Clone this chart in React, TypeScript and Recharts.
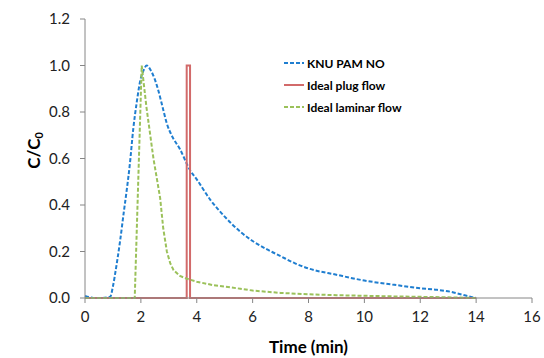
import React from "react";
import { LineChart, Line, XAxis, YAxis } from "recharts";

const knuTime = [0, 0.15, 0.3, 0.6, 0.9, 1.0, 1.1, 1.25, 1.4, 1.5, 1.6, 1.73, 1.85, 1.97, 2.1, 2.21, 2.35, 2.5, 2.63, 2.8, 2.93, 3.1, 3.4, 3.76, 4.0, 4.5, 5.0, 5.56, 6.0, 6.5, 7.0, 7.5, 8.0, 9.0, 10.0, 11.0, 12.0, 12.6, 13.08, 13.44, 13.7, 14.0];
const knuConc = [0.009, 0.004, 0.0, 0.0, 0.005, 0.05, 0.12, 0.24, 0.38, 0.47, 0.57, 0.73, 0.84, 0.93, 0.98, 1.0, 0.98, 0.94, 0.89, 0.81, 0.75, 0.7, 0.64, 0.55, 0.51, 0.42, 0.35, 0.285, 0.245, 0.21, 0.18, 0.15, 0.127, 0.1, 0.075, 0.058, 0.042, 0.035, 0.027, 0.016, 0.008, 0];

const plugTime = [0, 3.64, 3.64, 3.76, 3.76, 14];
const plugConc = [0, 0, 1, 1, 0, 0];

const laminarTime = [0, 1.78, 2.03, 2.2, 2.45, 2.69, 2.8, 2.93, 3.05, 3.17, 3.4, 3.64, 4.0, 4.6, 5.56, 6.0, 7.0, 8.0, 9.0, 10.2, 11, 12, 13, 14];
const laminarConc = [0, 0, 1.0, 0.82, 0.6, 0.43, 0.3, 0.2, 0.15, 0.12, 0.095, 0.083, 0.07, 0.055, 0.04, 0.032, 0.022, 0.016, 0.012, 0.009, 0.007, 0.005, 0.003, 0];

const xTicks = [0, 2, 4, 6, 8, 10, 12, 14, 16];
const yTicks = [0, 0.2, 0.4, 0.6, 0.8, 1.0, 1.2];

const toRows = (t: number[], c: number[]) => t.map((x, i) => ({ t: x, c: c[i] }));

const series = [
  { name: "KNU PAM NO", color: "#1f7ed0", dashed: true, data: toRows(knuTime, knuConc) },
  { name: "Ideal plug flow", color: "#d26a6a", dashed: false, data: toRows(plugTime, plugConc) },
  { name: "Ideal laminar flow", color: "#9bc15a", dashed: true, data: toRows(laminarTime, laminarConc) },
];

const font = "Lato, 'Open Sans', sans-serif";
const axisColor = "#868686";

// legend drawn on top of the chart, like the excel one
const LegendBox = () => (
  <div style={{ position: "absolute", left: 283, top: 52, fontFamily: font, fontWeight: 700, fontSize: 12, color: "#000" }}>
    {series.map((s) => (
      <div key={s.name} style={{ display: "flex", alignItems: "center", height: 22 }}>
        <svg width={22} height={6} style={{ marginRight: 2 }}>
          <line x1={1} y1={3} x2={21} y2={3} stroke={s.color} strokeWidth={2} strokeDasharray={s.dashed ? "4 2" : undefined} />
        </svg>
        <span>{s.name}</span>
      </div>
    ))}
  </div>
);

const YLabel = (props: any) => {
  const { viewBox } = props;
  const cy = viewBox.y + viewBox.height / 2 - 8;
  const cx = 33;
  return (
    <text x={cx} y={cy} transform={`rotate(-90, ${cx}, ${cy})`} textAnchor="middle" dominantBaseline="central" fontFamily={font} fontWeight={700} fontSize={17} fill="#000">
      C/C<tspan fontSize={11} dy={5}>0</tspan>
    </text>
  );
};

export default function App() {
  return (
    <div style={{ position: "absolute", left: 0, top: 0, width: 544, height: 358, background: "#fff" }}>
      <LineChart width={544} height={358} margin={{ top: 19, right: 12, bottom: 0, left: 0 }}>
        <XAxis
          dataKey="t"
          type="number"
          domain={[0, 16]}
          ticks={xTicks}
          allowDuplicatedCategory={false}
          stroke={axisColor}
          tickSize={5}
          tickMargin={8}
          tick={{ fill: "#222", fontSize: 15, fontFamily: font }}
          height={60}
          label={{ value: "Time (min)", position: "insideBottom", offset: 5, fill: "#000", fontSize: 17, fontWeight: 700, fontFamily: font }}
        />
        <YAxis
          dataKey="c"
          type="number"
          domain={[0, 1.2]}
          ticks={yTicks}
          stroke={axisColor}
          width={85}
          tickSize={5}
          tickMargin={10}
          tickFormatter={(v: number) => v.toFixed(1)}
          tick={{ fill: "#222", fontSize: 15, fontFamily: font }}
          label={<YLabel />}
        />
        {series.map((s) => (
          <Line
            key={s.name}
            data={s.data}
            dataKey="c"
            name={s.name}
            type={s.name === "KNU PAM NO" ? "monotone" : "linear"}
            stroke={s.color}
            strokeWidth={2}
            strokeDasharray={s.dashed ? "4 2" : undefined}
            dot={false}
            activeDot={false}
            isAnimationActive={false}
          />
        ))}
      </LineChart>
      <LegendBox />
    </div>
  );
}
